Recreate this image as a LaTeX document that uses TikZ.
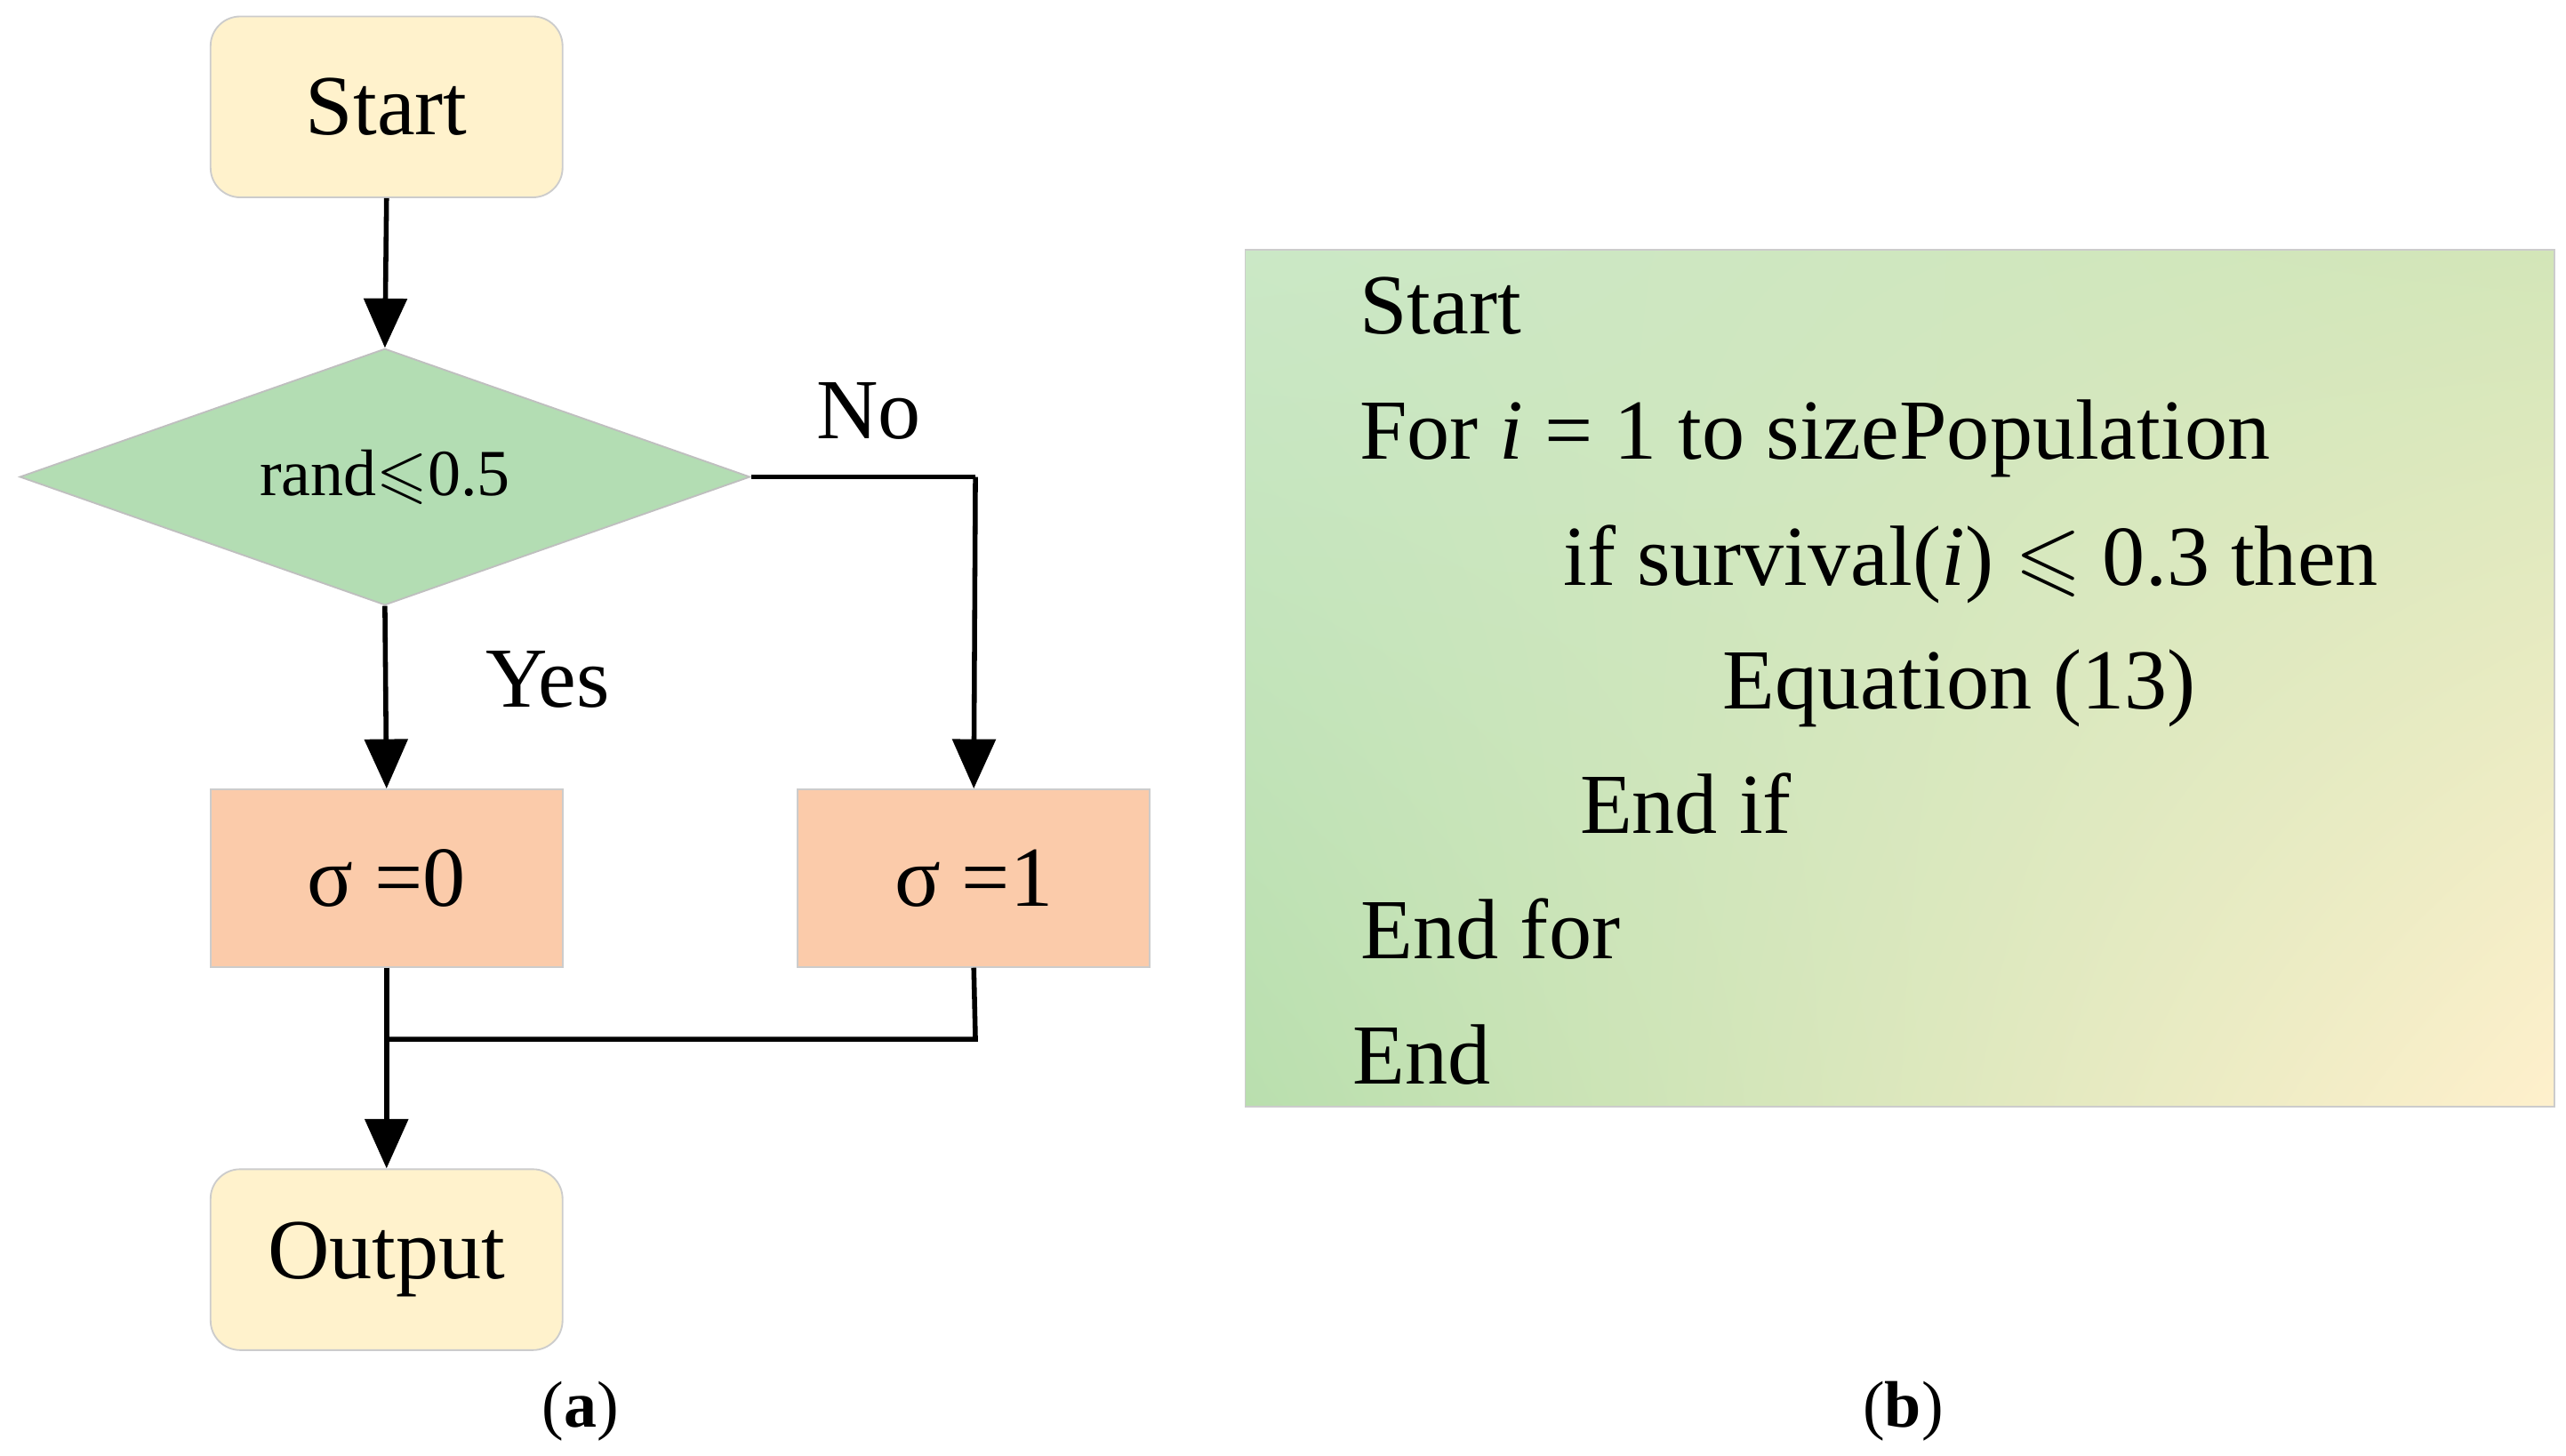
\documentclass[tikz,border=0pt]{standalone}
\usepackage{amssymb}
\usepackage{fontspec}
\setmainfont{Liberation Serif}
\usetikzlibrary{shapes.geometric,arrows.meta,shadings}
\definecolor{cream}{HTML}{FFF2CC}
\definecolor{dgreen}{HTML}{B3DDB3}
\definecolor{peach}{HTML}{FBCBAA}
\definecolor{gul}{HTML}{CBE8C6}
\definecolor{gur}{HTML}{D3E6B8}
\definecolor{gll}{HTML}{B9DFAE}
\definecolor{glr}{HTML}{FFF0CC}
\begin{document}
\begin{tikzpicture}[x=1pt,y=-1pt,
  term/.style={draw=black!20,line width=1pt,fill=cream,rounded corners=18pt,minimum width=214pt,minimum height=110pt,font=\fontsize{52}{56}\selectfont},
  box/.style={draw=black!20,line width=1pt,fill=peach,minimum width=214pt,minimum height=108pt,font=\fontsize{52}{56}\selectfont},
  dec/.style={diamond,draw=black!25,line width=1pt,fill=dgreen,minimum width=444pt,minimum height=156pt,aspect=2.85,inner sep=0pt,font=\fontsize{40}{44}\selectfont},
  arr/.style={line width=3pt,-{Triangle[length=30pt,width=26pt]}},
  ln/.style={line width=3pt},
  lbl/.style={font=\fontsize{52}{56}\selectfont},
  code/.style={anchor=base west,font=\fontsize{52}{56}\selectfont}]
\useasboundingbox (0,0) rectangle (1560,885);
\node[term] (start) at (235,65) {Start};
\node[dec] (d) at (234,290) {rand$\leqslant$0.5};
\node[box] (s0) at (235,534) {σ =0};
\node[box] (s1) at (592,534) {σ =1};
\node[term] (out) at (235,766) {Output};
\coordinate (c1) at (593,290);
\coordinate (c2) at (593,632);
\coordinate (c3) at (234,632);
\draw[arr] (start.south) -- (d.north);
\draw[arr] (d.south) -- (s0.north);
\draw[ln] (d.east) -- (c1);
\draw[arr] (c1) -- (s1.north);
\draw[arr] (s0.south) -- (out.north);
\draw[ln] (s1.south) -- (c2) -- (c3);
\node[lbl] (no) at (528,250) {No};
\node[lbl] (yes) at (333,413) {Yes};
\node[font=\fontsize{40}{44}\selectfont] (la) at (353,858) {(\textbf{a})};
\node[font=\fontsize{40}{44}\selectfont] (lb) at (1157,858) {(\textbf{b})};
\shade[upper left=gul,upper right=gur,lower left=gll,lower right=glr] (757,152) rectangle (1553,673);
\draw[black!20,line width=1pt] (757,152) rectangle (1553,673);
\node[code] (t1) at (823,203) {Start};
\node[code] (t2) at (823,279) {For \textit{i} = 1 to sizePopulation};
\node[code] (t3) at (947,356) {if survival(\textit{i}) $\leqslant$ 0.3 then};
\node[code] (t4) at (1044,431) {Equation (13)};
\node[code] (t5) at (957,507) {End if};
\node[code] (t6) at (824,583) {End for};
\node[code] (t7) at (819,659) {End};
\end{tikzpicture}
\end{document}
